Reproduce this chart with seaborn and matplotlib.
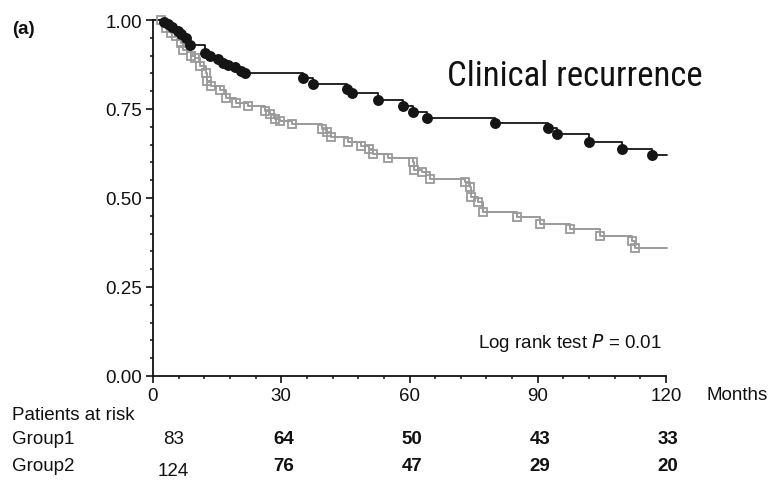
import matplotlib
matplotlib.use("Agg")
import matplotlib.pyplot as plt
import matplotlib.transforms as mtransforms
from matplotlib.ticker import MultipleLocator, FixedLocator
import numpy as np
import pandas as pd
import seaborn as sns

# Kaplan-Meier step data: months and survival after each step
group1_months = [0, 2.5, 3.5, 4.5, 5.8, 6.5, 7.7, 8.7, 12.2, 13.3, 15.2, 16.4, 17.5,
                 19.2, 20.6, 21.5, 35.0, 37.4, 45.4, 46.5, 52.6, 58.5, 60.8, 64.0,
                 80.0, 92.4, 94.5, 102.0, 109.7, 116.7]
group1_surv = [1.0, 0.995, 0.99, 0.98, 0.97, 0.96, 0.95, 0.93, 0.907, 0.90, 0.89,
               0.88, 0.874, 0.868, 0.857, 0.851, 0.838, 0.82, 0.806, 0.796, 0.774,
               0.758, 0.742, 0.725, 0.712, 0.698, 0.68, 0.658, 0.638, 0.62]
group1_end = 120.3

group2_months = [0, 1.9, 3.0, 4.2, 5.4, 6.5, 7.0, 8.9, 9.8, 11.0, 12.4, 12.6, 13.6,
                 15.7, 17.1, 19.4, 22.2, 26.2, 27.4, 28.5, 29.7, 32.5, 39.5, 40.7,
                 41.6, 45.5, 48.6, 50.6, 51.5, 55.0, 60.8, 61.0, 63.0, 64.8, 73.0,
                 74.2, 74.4, 76.0, 77.2, 85.1, 90.5, 97.5, 104.6, 112.0, 112.7]
group2_surv = [1.0, 1.0, 0.978, 0.963, 0.955, 0.935, 0.916, 0.90, 0.893, 0.87, 0.851,
               0.829, 0.815, 0.803, 0.781, 0.767, 0.758, 0.745, 0.736, 0.722, 0.716,
               0.708, 0.694, 0.685, 0.671, 0.657, 0.646, 0.638, 0.624, 0.612, 0.60,
               0.58, 0.573, 0.553, 0.545, 0.531, 0.503, 0.49, 0.46, 0.446, 0.427,
               0.413, 0.392, 0.379, 0.36]
group2_end = 120.3

# Numbers at risk
risk_months = [0, 30, 60, 90, 120]
group1_at_risk = [83, 64, 50, 43, 33]
group2_at_risk = [124, 76, 47, 29, 20]

x_ticks = [0, 30, 60, 90, 120]
y_ticks = [0.00, 0.25, 0.50, 0.75, 1.00]

sns.set_theme(style="white")
plt.rcParams["font.family"] = ["Liberation Sans", "DejaVu Sans"]

fig = plt.figure(figsize=(7.72, 4.81), dpi=100)
ax = fig.add_axes([153 / 772, 1 - 377 / 481, (666 - 153) / 772, (377 - 21) / 481])

black = "#151515"
grey = "#9a9a9a"


def step_frame(months, surv, end):
    t = list(months) + [end]
    s = list(surv) + [surv[-1]]
    return pd.DataFrame({"Months": t, "Survival": s})


df2 = step_frame(group2_months, group2_surv, group2_end)
df1 = step_frame(group1_months, group1_surv, group1_end)
marks2 = pd.DataFrame({"Months": group2_months[1:], "Survival": group2_surv[1:]})
marks1 = pd.DataFrame({"Months": group1_months[1:], "Survival": group1_surv[1:]})

sns.lineplot(data=df2, x="Months", y="Survival", ax=ax, color=grey, lw=1.4,
             drawstyle="steps-post", estimator=None, sort=False, clip_on=False)
ax.plot(marks2["Months"], marks2["Survival"], ls="none", marker="s", ms=6.4,
        mfc="none", mec=grey, mew=1.3, clip_on=False, zorder=3)

sns.lineplot(data=df1, x="Months", y="Survival", ax=ax, color=black, lw=1.3,
             drawstyle="steps-post", estimator=None, sort=False, clip_on=False)
sns.scatterplot(data=marks1, x="Months", y="Survival", ax=ax, color=black,
                s=62, marker="o", edgecolor=black, linewidth=0, zorder=4,
                clip_on=False)

ax.set_xlim(0, 120)
ax.set_ylim(0, 1)
ax.set_xlabel("")
ax.set_ylabel("")
ax.xaxis.set_major_locator(FixedLocator(x_ticks))
ax.yaxis.set_major_locator(FixedLocator(y_ticks))
ax.xaxis.set_minor_locator(MultipleLocator(6))
ax.yaxis.set_minor_locator(MultipleLocator(0.05))
ax.set_xticklabels([str(v) for v in x_ticks])
ax.set_yticklabels([f"{v:.2f}" for v in y_ticks])

for side in ("top", "right"):
    ax.spines[side].set_visible(False)
for side in ("left", "bottom"):
    ax.spines[side].set_color("#111111")
    ax.spines[side].set_linewidth(1.3)

ax.tick_params(axis="both", which="major", direction="out", length=5, width=1.2,
               color="#111111", labelsize=13.5, labelcolor="#111111", pad=3,
               left=True, bottom=True)
ax.tick_params(axis="both", which="minor", direction="out", length=2.5, width=1.1,
               color="#111111", left=True, bottom=True)
ax.grid(False)

ax.text(68.8, 0.843, "Clinical recurrence", ha="left", va="center",
        fontsize=25, color="#111111", fontstretch="condensed",
        family=["Liberation Sans Narrow", "Roboto Condensed", "Noto Sans Condensed",
                "Open Sans Condensed", "Noto Sans", "DejaVu Sans"])
ax.text(76.0, 0.095, "Log rank test $\\it{P}$ = 0.01", ha="left", va="center",
        fontsize=13.5, color="#111111")

fig.text(12 / 772, 1 - 30 / 481, "(a)", fontsize=13.5, fontweight="bold",
         ha="left", va="center", color="#111111")
fig.text(706 / 772, 1 - 396 / 481, "Months", fontsize=13.5, ha="left",
         va="center", color="#111111")

# Patients-at-risk table below the axis
fig.text(12 / 772, 1 - 416 / 481, "Patients at risk", fontsize=13.5, ha="left",
         va="center", color="#111111")
fig.text(12 / 772, 1 - 440 / 481, "Group1", fontsize=13.5, ha="left",
         va="center", color="#111111")
fig.text(12 / 772, 1 - 467 / 481, "Group2", fontsize=13.5, ha="left",
         va="center", color="#111111")

blend = mtransforms.blended_transform_factory(ax.transData, fig.transFigure)
for i, (m, n1, n2) in enumerate(zip(risk_months, group1_at_risk, group2_at_risk)):
    xpos = 4.7 if i == 0 else m + 0.5
    weight = "normal" if i == 0 else "bold"
    ax.text(xpos, 1 - 440 / 481, str(n1), transform=blend, ha="center",
            va="center", fontsize=13.5, fontweight=weight, color="#111111")
    y2 = 1 - (472 if i == 0 else 467) / 481
    ax.text(xpos, y2, str(n2), transform=blend, ha="center", va="center",
            fontsize=13.5, fontweight=weight, color="#111111")

fig.savefig("out.png", dpi=100)
